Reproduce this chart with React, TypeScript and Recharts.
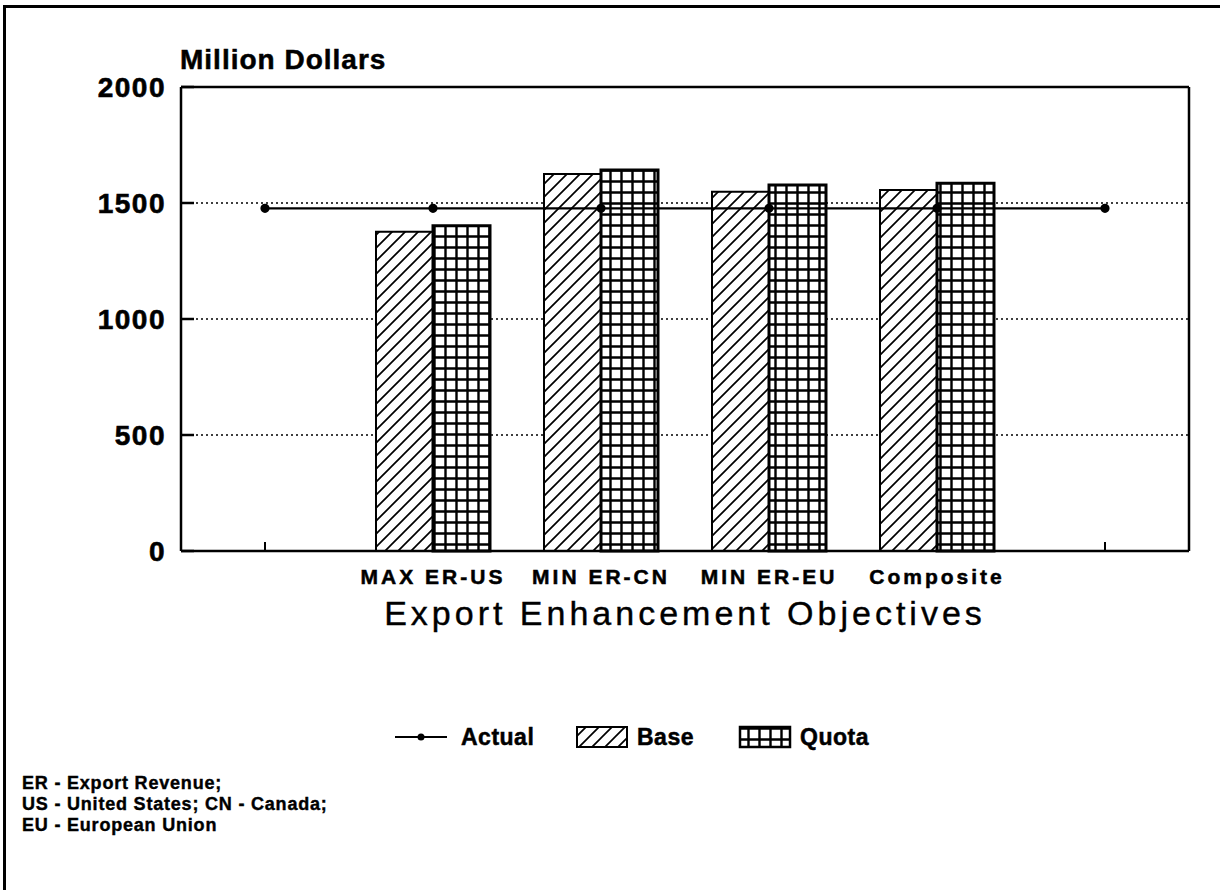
import React from "react";
import {
  Bar,
  CartesianGrid,
  ComposedChart,
  Label,
  Line,
  XAxis,
  YAxis,
} from "recharts";

// categories (the two pads keep the empty slots at both ends of the axis)
const categoryKeys = [
  "pad-left",
  "MAX ER-US",
  "MIN ER-CN",
  "MIN ER-EU",
  "Composite",
  "pad-right",
];
const categoryLabels = ["", "MAX ER-US", "MIN ER-CN", "MIN ER-EU", "Composite", ""];

// values, million dollars
const actualValues = [1477, 1477, 1477, 1477, 1477, 1477];
const baseValues = [null, 1376, 1625, 1549, 1556, null];
const quotaValues = [null, 1402, 1642, 1578, 1585, null];

const yTicks = [0, 500, 1000, 1500, 2000];

const footnotes = [
  "ER - Export Revenue;",
  "US - United States; CN - Canada;",
  "EU - European Union",
];

const FONT = '"Liberation Sans", Arial, Helvetica, sans-serif';

const data = categoryKeys.map((key, i) => ({
  key,
  actual: actualValues[i],
  base: baseValues[i],
  quota: quotaValues[i],
}));

function YTick(props: any) {
  const { x, y, payload } = props;
  return (
    <g>
      <text
        x={x}
        y={y}
        dy="0.36em"
        textAnchor="end"
        fontFamily={FONT}
        fontWeight="bold"
        fontSize={28}
        letterSpacing={1.5}
        fill="#000"
        stroke="#000"
        strokeWidth={0.6}
      >
        {payload.value}
      </text>
      {/* inward tick */}
      <line x1={x + 15} x2={x + 28} y1={y} y2={y} stroke="#000" strokeWidth={2.5} />
    </g>
  );
}

function XTick(props: any) {
  const { x, y, payload } = props;
  const idx = categoryKeys.indexOf(payload.value);
  return (
    <g>
      <text
        x={x}
        y={y}
        dy="0.71em"
        textAnchor="middle"
        fontFamily={FONT}
        fontWeight="bold"
        fontSize={21}
        letterSpacing={3}
        fill="#000"
        stroke="#000"
        strokeWidth={0.5}
      >
        {categoryLabels[idx]}
      </text>
      <line x1={x} x2={x} y1={y - 18} y2={y - 27} stroke="#000" strokeWidth={2} />
    </g>
  );
}

function AxisTitle(props: any) {
  const vb = props.viewBox;
  return (
    <text
      x={vb.x + vb.width / 2}
      y={vb.y + 74}
      textAnchor="middle"
      fontFamily={FONT}
      fontSize={34}
      letterSpacing={4}
      fill="#000"
      stroke="#000"
      strokeWidth={0.4}
    >
      Export Enhancement Objectives
    </text>
  );
}

function Patterns({ prefix }: { prefix: string }) {
  return (
    <defs>
      <pattern
        id={prefix + "hatch"}
        width={13}
        height={13}
        patternUnits="userSpaceOnUse"
      >
        <rect width={13} height={13} fill="#fff" />
        <path
          d="M-3,3 L3,-3 M0,13 L13,0 M10,16 L16,10"
          stroke="#000"
          strokeWidth={1.7}
        />
      </pattern>
      <pattern
        id={prefix + "grid"}
        width={11}
        height={11}
        patternUnits="userSpaceOnUse"
      >
        <rect width={11} height={11} fill="#fff" />
        <path d="M0,5.5 H11 M5.5,0 V11" stroke="#000" strokeWidth={2.4} />
      </pattern>
    </defs>
  );
}

function LegendRow() {
  const text = {
    position: "absolute" as const,
    top: 722,
    fontFamily: FONT,
    fontWeight: "bold" as const,
    fontSize: 23,
    letterSpacing: 0.5,
    lineHeight: "30px",
    WebkitTextStroke: "0.5px #000",
  };
  return (
    <>
      <svg
        width={520}
        height={50}
        style={{ position: "absolute", left: 380, top: 712 }}
      >
        <Patterns prefix="lg-" />
        <line x1={15} x2={67} y1={25} y2={25} stroke="#000" strokeWidth={2} />
        <circle cx={41} cy={25} r={3.5} fill="#000" />
        <rect
          x={197}
          y={15}
          width={50}
          height={20}
          fill="url(#lg-hatch)"
          stroke="#000"
          strokeWidth={2}
        />
        <rect
          x={360}
          y={15}
          width={50}
          height={20}
          fill="url(#lg-grid)"
          stroke="#000"
          strokeWidth={2.5}
        />
      </svg>
      <div style={{ ...text, left: 461 }}>Actual</div>
      <div style={{ ...text, left: 637 }}>Base</div>
      <div style={{ ...text, left: 800 }}>Quota</div>
    </>
  );
}

export default function App() {
  return (
    <div
      style={{
        position: "absolute",
        left: 0,
        top: 0,
        width: 1220,
        height: 890,
        background: "#fff",
        overflow: "hidden",
      }}
    >
      {/* page frame (left + top edges of the scan) */}
      <div
        style={{
          position: "absolute",
          left: 3,
          top: 5,
          width: 1220,
          height: 890,
          borderLeft: "3px solid #000",
          borderTop: "3px solid #000",
        }}
      />

      <div
        style={{
          position: "absolute",
          left: 180,
          top: 44,
          fontFamily: FONT,
          fontWeight: "bold",
          fontSize: 28,
          letterSpacing: 1,
          lineHeight: "32px",
          WebkitTextStroke: "0.5px #000",
        }}
      >
        Million Dollars
      </div>

      <ComposedChart
        width={1220}
        height={890}
        data={data}
        margin={{ top: 86, right: 30, left: 0, bottom: 239 }}
        barGap={0}
        style={{ position: "absolute", left: 0, top: 0 }}
      >
        <Patterns prefix="ch-" />

        <CartesianGrid
          vertical={false}
          stroke="#000"
          strokeWidth={1.5}
          strokeDasharray="2 3"
        />

        <XAxis
          dataKey="key"
          interval={0}
          height={100}
          tickSize={0}
          tickMargin={18}
          tick={<XTick />}
          axisLine={{ stroke: "#000", strokeWidth: 2.5 }}
        >
          <Label content={<AxisTitle />} />
        </XAxis>
        <XAxis
          xAxisId="top"
          dataKey="key"
          orientation="top"
          height={1}
          tick={false}
          tickLine={false}
          axisLine={{ stroke: "#000", strokeWidth: 2.5 }}
        />

        <YAxis
          width={181}
          domain={[0, 2000]}
          ticks={yTicks}
          tickSize={0}
          tickMargin={15}
          tick={<YTick />}
          axisLine={{ stroke: "#000", strokeWidth: 2.5 }}
        />
        <YAxis
          yAxisId="right"
          orientation="right"
          width={1}
          domain={[0, 2000]}
          tick={false}
          tickLine={false}
          axisLine={{ stroke: "#000", strokeWidth: 2.5 }}
        />

        <Bar
          dataKey="base"
          barSize={57}
          fill="url(#ch-hatch)"
          stroke="#000"
          strokeWidth={2}
          isAnimationActive={false}
        />
        <Bar
          dataKey="quota"
          barSize={57}
          fill="url(#ch-grid)"
          stroke="#000"
          strokeWidth={3}
          isAnimationActive={false}
        />
        <Line
          dataKey="actual"
          stroke="#000"
          strokeWidth={2.2}
          dot={{ r: 3.5, fill: "#000", stroke: "#000" }}
          activeDot={false}
          isAnimationActive={false}
        />
      </ComposedChart>

      <LegendRow />

      <div
        style={{
          position: "absolute",
          left: 22,
          top: 773,
          fontFamily: FONT,
          fontWeight: "bold",
          fontSize: 18,
          letterSpacing: 0.8,
          lineHeight: "21px",
          WebkitTextStroke: "0.4px #000",
        }}
      >
        {footnotes.map((t) => (
          <div key={t}>{t}</div>
        ))}
      </div>
    </div>
  );
}
